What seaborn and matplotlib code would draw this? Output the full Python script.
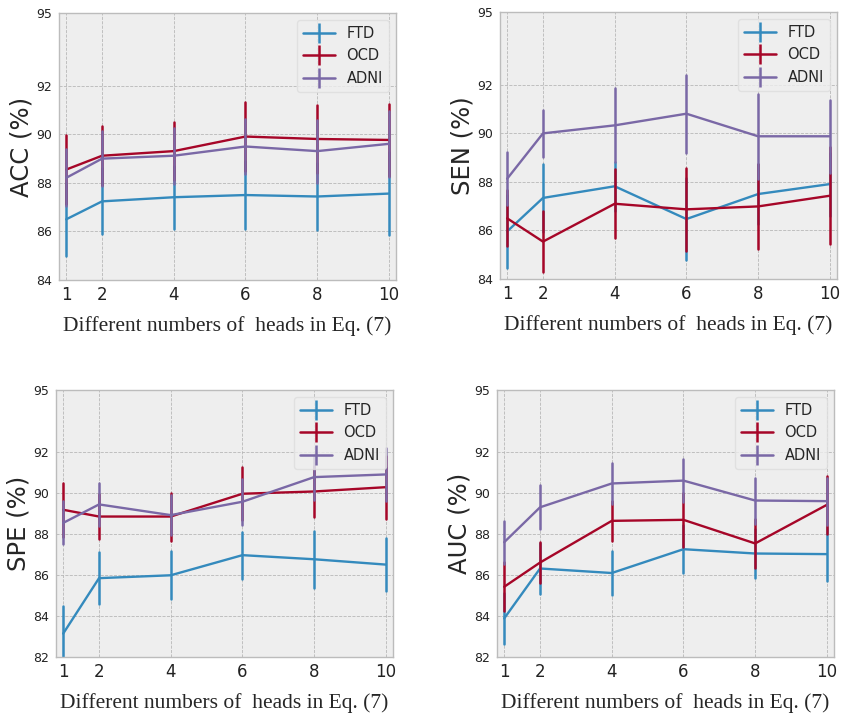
import matplotlib
matplotlib.use('Agg')

import matplotlib.pyplot as plt
from matplotlib.lines import Line2D
import pandas as pd
import seaborn as sns


# ── Data ─────────────────────────────────────────────────────────────────────

HEADS    = [1, 2, 4, 6, 8, 10]
DATASETS = ['FTD', 'OCD', 'ADNI']
COLORS   = ['#348ABD', '#A60628', '#7A68A6']

ACC_FTD       = [86.50, 87.24, 87.41, 87.50, 87.44, 87.56]
ACC_FTD_ERR   = [1.50, 1.36, 1.30, 1.40, 1.40, 1.70]
ACC_OCD       = [88.55, 89.12, 89.31, 89.91, 89.81, 89.77]
ACC_OCD_ERR   = [1.42, 1.22, 1.19, 1.41, 1.41, 1.50]
ACC_ADNI      = [88.21, 89.00, 89.12, 89.50, 89.31, 89.61]
ACC_ADNI_ERR  = [1.17, 1.13, 1.15, 1.15, 1.30, 1.35]

SEN_FTD       = [85.96, 87.34, 87.82, 86.47, 87.50, 87.91]
SEN_FTD_ERR   = [1.50, 1.41, 1.00, 1.70, 1.24, 1.30]
SEN_OCD       = [86.50, 85.54, 87.10, 86.87, 86.99, 87.43]
SEN_OCD_ERR   = [1.15, 1.25, 1.42, 1.70, 1.74, 2.00]
SEN_ADNI      = [88.13, 90.00, 90.33, 90.81, 89.88, 89.88]
SEN_ADNI_ERR  = [1.10, 0.98, 1.52, 1.60, 1.74, 1.51]

SPE_FTD       = [83.14, 85.84, 85.98, 86.96, 86.76, 86.50]
SPE_FTD_ERR   = [1.36, 1.25, 1.17, 1.15, 1.38, 1.28]
SPE_OCD       = [89.17, 88.84, 88.84, 89.95, 90.06, 90.27]
SPE_OCD_ERR   = [1.31, 1.09, 1.17, 1.30, 1.25, 1.53]
SPE_ADNI      = [88.53, 89.43, 88.91, 89.56, 90.76, 90.89]
SPE_ADNI_ERR  = [1.05, 1.05, 0.98, 1.13, 1.10, 1.30]

AUC_FTD       = [83.88, 86.31, 86.09, 87.25, 87.04, 87.01]
AUC_FTD_ERR   = [1.25, 1.23, 1.05, 1.16, 1.20, 1.30]
AUC_OCD       = [85.42, 86.60, 88.63, 88.68, 87.53, 89.41]
AUC_OCD_ERR   = [1.20, 1.00, 0.97, 1.30, 1.20, 1.40]
AUC_ADNI      = [87.59, 89.29, 90.45, 90.59, 89.62, 89.59]
AUC_ADNI_ERR  = [1.04, 1.07, 1.00, 1.04, 1.12, 1.15]

YTICKS_TOP    = [84, 86, 88, 90, 92, 95]
YTICKS_BOTTOM = [82, 84, 86, 88, 90, 92, 95]
XLABEL        = 'Different numbers of  heads in Eq. (7)'


# ── Style ────────────────────────────────────────────────────────────────────

sns.set_theme(style='whitegrid', rc={
    'axes.facecolor'   : '#eeeeee',
    'axes.edgecolor'   : '#bcbcbc',
    'axes.linewidth'   : 1.0,
    'grid.color'       : '#b8b8b8',
    'grid.linestyle'   : '--',
    'grid.linewidth'   : 0.6,
    'xtick.color'      : '#222222',
    'ytick.color'      : '#222222',
    'legend.facecolor' : '#eeeeee',
    'legend.edgecolor' : '#dddddd',
    'legend.framealpha': 0.8,
})
plt.rcParams['font.family'] = ['DejaVu Sans']


def to_long(means, errs):
    # two observations per point so the min/max interval spans mean ± err
    rows = []
    for name, m, e in zip(DATASETS, means, errs):
        for h, y, d in zip(HEADS, m, e):
            rows.append({'heads': h, 'dataset': name, 'value': y - d})
            rows.append({'heads': h, 'dataset': name, 'value': y + d})
    return pd.DataFrame(rows)


PANELS = [
    ('ACC (%)', [ACC_FTD, ACC_OCD, ACC_ADNI], [ACC_FTD_ERR, ACC_OCD_ERR, ACC_ADNI_ERR],
     YTICKS_TOP, [0.0702, 0.6084, 0.4007, 0.3734]),
    ('SEN (%)', [SEN_FTD, SEN_OCD, SEN_ADNI], [SEN_FTD_ERR, SEN_OCD_ERR, SEN_ADNI_ERR],
     YTICKS_TOP, [0.5945, 0.6098, 0.4007, 0.3734]),
    ('SPE (%)', [SPE_FTD, SPE_OCD, SPE_ADNI], [SPE_FTD_ERR, SPE_OCD_ERR, SPE_ADNI_ERR],
     YTICKS_BOTTOM, [0.0666, 0.0811, 0.4007, 0.3734]),
    ('AUC (%)', [AUC_FTD, AUC_OCD, AUC_ADNI], [AUC_FTD_ERR, AUC_OCD_ERR, AUC_ADNI_ERR],
     YTICKS_BOTTOM, [0.5910, 0.0811, 0.4007, 0.3734]),
]


# ── Figure ───────────────────────────────────────────────────────────────────

fig = plt.figure(figsize=(8.41, 7.15), dpi=100)

legend_handles = [
    (Line2D([], [], color=c, lw=1.8),
     Line2D([], [], color=c, marker='|', markersize=15, markeredgewidth=1.8, linestyle='none'))
    for c in COLORS
]

for ylabel, means, errs, yticks, rect in PANELS:
    ax = fig.add_axes(rect)
    df = to_long(means, errs)
    sns.lineplot(
        data=df, x='heads', y='value', hue='dataset', hue_order=DATASETS,
        palette=COLORS, estimator='mean',
        errorbar=lambda v: (v.min(), v.max()),
        err_style='bars', err_kws={'elinewidth': 1.8, 'capsize': 0},
        linewidth=1.7, legend=False, ax=ax,
    )
    ax.set_xlim(0.8, 10.2)
    ax.set_ylim(yticks[0], yticks[-1])
    ax.set_xticks(HEADS)
    ax.set_yticks(yticks)
    ax.tick_params(axis='x', labelsize=12, length=3, pad=1)
    ax.tick_params(axis='y', labelsize=9, length=3, pad=2)
    ax.grid(True)
    ax.set_ylabel(ylabel, fontsize=17.5, labelpad=2)
    ax.set_xlabel(XLABEL, fontsize=15.5, family=['Liberation Serif'], labelpad=9)
    ax.legend(legend_handles, DATASETS, loc='upper right', fontsize=10.5,
              handlelength=2.2, borderaxespad=0.5, fancybox=True)

fig.savefig('out.png', dpi=100)
